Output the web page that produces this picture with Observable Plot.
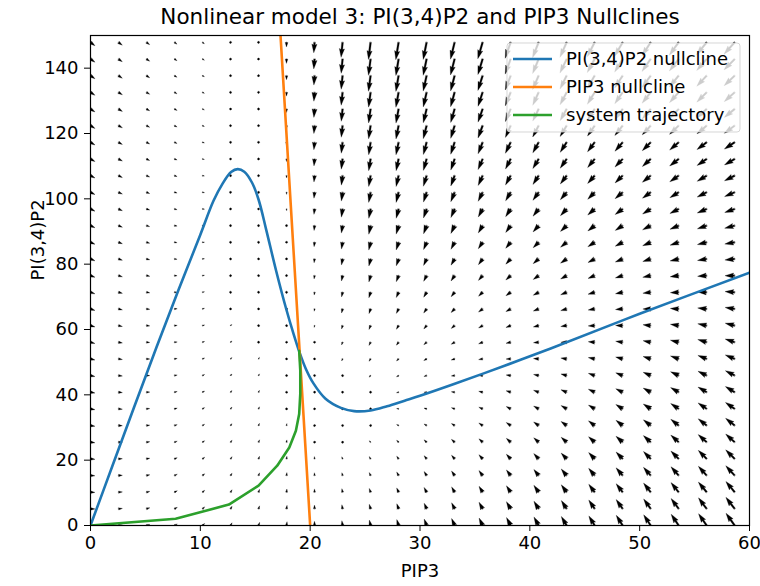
<!DOCTYPE html>
<html>
<head>
<meta charset="utf-8">
<script src="https://cdn.jsdelivr.net/npm/d3@7"></script>
<script src="https://cdn.jsdelivr.net/npm/@observablehq/plot@0.6"></script>
<style>
  body { margin: 0; background: #fff; }
  #chart { position: relative; width: 760px; height: 586px; }
</style>
</head>
<body>
<div id="chart"></div>
<script>
// ---------- data ----------
const TITLE = "Nonlinear model 3: PI(3,4)P2 and PIP3 Nullclines";
const X_LABEL = "PIP3";
const Y_LABEL = "PI(3,4)P2";
const X_TICKS = [0, 10, 20, 30, 40, 50, 60];
const Y_TICKS = [0, 20, 40, 60, 80, 100, 120, 140];
const SERIES = ["PI(3,4)P2 nullcline", "PIP3 nullcline", "system trajectory"];
const COLORS = ["#1f77b4", "#ff7f0e", "#2ca02c"];

// quiver grid
const GRID_PIP3 = [0,2.55,5.1,7.65,10.2,12.75,15.3,17.85,20.4,22.95,25.5,28.05,30.6,33.15,35.7,38.25,40.8,43.35,45.9,48.45,51,53.55,56.1,58.65];
const GRID_PIP2 = [0,5.1,10.2,15.3,20.4,25.5,30.6,35.7,40.8,45.9,51,56.1,61.2,66.3,71.4,76.5,81.6,86.7,91.8,96.9,102,107.1,112.2,117.3,122.4,127.5,132.6,137.7,142.8,147.9];

// arrow components (one array per PIP3 grid column, bottom row first)
const DPIP3 = [
[4.5,4.5,4.5,4.5,4.5,4.5,4.5,4.5,4.5,4.5,4.5,4.5,4.5,4.5,4.5,4.5,4.5,4.5,4.5,4.5,4.5,4.5,4.5,4.5,4.5,4.5,4.5,4.5,4.5,4.5],
[3.9,3.9,3.9,3.9,3.9,3.9,3.9,3.9,3.9,3.9,3.9,3.9,3.9,3.9,3.9,3.9,3.9,3.9,3.9,3.9,3.9,3.9,3.9,3.9,3.9,3.9,3.9,3.8,3.8,3.8],
[3.4,3.3,3.3,3.3,3.3,3.3,3.3,3.3,3.3,3.3,3.3,3.3,3.3,3.3,3.3,3.3,3.3,3.2,3.2,3.2,3.2,3.2,3.2,3.2,3.2,3.2,3.2,3.2,3.2,3.2],
[2.8,2.8,2.8,2.8,2.7,2.7,2.7,2.7,2.7,2.7,2.7,2.7,2.7,2.7,2.7,2.6,2.6,2.6,2.6,2.6,2.6,2.6,2.6,2.6,2.6,2.6,2.5,2.5,2.5,2.5],
[2.2,2.2,2.2,2.2,2.2,2.1,2.1,2.1,2.1,2.1,2.1,2.1,2.1,2,2,2,2,2,2,2,2,1.9,1.9,1.9,1.9,1.9,1.9,1.9,1.9,1.9],
[1.6,1.6,1.6,1.6,1.6,1.6,1.5,1.5,1.5,1.5,1.5,1.5,1.4,1.4,1.4,1.4,1.4,1.4,1.4,1.3,1.3,1.3,1.3,1.3,1.3,1.3,1.2,1.2,1.2,1.2],
[1.1,1,1,1,1,1,0.9,0.9,0.9,0.9,0.9,0.9,0.8,0.8,0.8,0.8,0.8,0.7,0.7,0.7,0.7,0.7,0.7,0.6,0.6,0.6,0.6,0.6,0.5,0.5],
[0.5,0.5,0.4,0.4,0.4,0.4,0.4,0.3,0.3,0.3,0.3,0.2,0.2,0.2,0.2,0.2,0.1,0.1,0.1,0.1,0.1,0,0,0,0,0,-0.1,-0.1,-0.1,-0.1],
[-0.1,-0.1,-0.1,-0.2,-0.2,-0.2,-0.2,-0.3,-0.3,-0.3,-0.3,-0.4,-0.4,-0.4,-0.4,-0.5,-0.5,-0.5,-0.5,-0.6,-0.6,-0.6,-0.6,-0.7,-0.7,-0.7,-0.7,-0.7,-0.8,-0.8],
[-0.7,-0.7,-0.7,-0.7,-0.8,-0.8,-0.8,-0.9,-0.9,-0.9,-0.9,-1,-1,-1,-1,-1.1,-1.1,-1.1,-1.2,-1.2,-1.2,-1.2,-1.3,-1.3,-1.3,-1.3,-1.4,-1.4,-1.4,-1.5],
[-1.2,-1.3,-1.3,-1.3,-1.4,-1.4,-1.4,-1.5,-1.5,-1.5,-1.6,-1.6,-1.6,-1.6,-1.7,-1.7,-1.7,-1.8,-1.8,-1.8,-1.9,-1.9,-1.9,-1.9,-2,-2,-2,-2.1,-2.1,-2.1],
[-1.8,-1.8,-1.9,-1.9,-1.9,-2,-2,-2,-2.1,-2.1,-2.1,-2.2,-2.2,-2.2,-2.3,-2.3,-2.3,-2.4,-2.4,-2.4,-2.5,-2.5,-2.5,-2.6,-2.6,-2.6,-2.7,-2.7,-2.7,-2.8],
[-2.4,-2.4,-2.5,-2.5,-2.5,-2.6,-2.6,-2.6,-2.7,-2.7,-2.8,-2.8,-2.8,-2.9,-2.9,-2.9,-3,-3,-3,-3.1,-3.1,-3.2,-3.2,-3.2,-3.3,-3.3,-3.3,-3.4,-3.4,-3.4],
[-3,-3,-3,-3.1,-3.1,-3.2,-3.2,-3.2,-3.3,-3.3,-3.4,-3.4,-3.4,-3.5,-3.5,-3.6,-3.6,-3.6,-3.7,-3.7,-3.8,-3.8,-3.8,-3.9,-3.9,-3.9,-4,-4,-4.1,-4.1],
[-3.5,-3.6,-3.6,-3.7,-3.7,-3.7,-3.8,-3.8,-3.9,-3.9,-4,-4,-4,-4.1,-4.1,-4.2,-4.2,-4.3,-4.3,-4.3,-4.4,-4.4,-4.5,-4.5,-4.6,-4.6,-4.6,-4.7,-4.7,-4.8],
[-4.1,-4.2,-4.2,-4.2,-4.3,-4.3,-4.4,-4.4,-4.5,-4.5,-4.6,-4.6,-4.7,-4.7,-4.7,-4.8,-4.8,-4.9,-4.9,-5,-5,-5.1,-5.1,-5.2,-5.2,-5.2,-5.3,-5.3,-5.4,-5.4],
[-4.7,-4.7,-4.8,-4.8,-4.9,-4.9,-5,-5,-5.1,-5.1,-5.2,-5.2,-5.3,-5.3,-5.4,-5.4,-5.5,-5.5,-5.6,-5.6,-5.7,-5.7,-5.8,-5.8,-5.9,-5.9,-5.9,-6,-6,-6.1],
[-5.3,-5.3,-5.4,-5.4,-5.5,-5.5,-5.6,-5.6,-5.7,-5.7,-5.8,-5.8,-5.9,-5.9,-6,-6,-6.1,-6.1,-6.2,-6.2,-6.3,-6.3,-6.4,-6.4,-6.5,-6.5,-6.6,-6.6,-6.7,-6.7],
[-5.8,-5.9,-5.9,-6,-6,-6.1,-6.2,-6.2,-6.3,-6.3,-6.4,-6.4,-6.5,-6.5,-6.6,-6.6,-6.7,-6.8,-6.8,-6.9,-6.9,-7,-7,-7.1,-7.1,-7.2,-7.3,-7.3,-7.4,-7.4],
[-6.4,-6.5,-6.5,-6.6,-6.6,-6.7,-6.7,-6.8,-6.9,-6.9,-7,-7,-7.1,-7.2,-7.2,-7.3,-7.3,-7.4,-7.4,-7.5,-7.6,-7.6,-7.7,-7.7,-7.8,-7.8,-7.9,-8,-8,-8.1],
[-7,-7,-7.1,-7.2,-7.2,-7.3,-7.3,-7.4,-7.5,-7.5,-7.6,-7.6,-7.7,-7.8,-7.8,-7.9,-7.9,-8,-8.1,-8.1,-8.2,-8.3,-8.3,-8.4,-8.4,-8.5,-8.6,-8.6,-8.7,-8.7],
[-7.5,-7.6,-7.7,-7.7,-7.8,-7.9,-7.9,-8,-8.1,-8.1,-8.2,-8.3,-8.3,-8.4,-8.4,-8.5,-8.6,-8.6,-8.7,-8.8,-8.8,-8.9,-9,-9,-9.1,-9.1,-9.2,-9.3,-9.3,-9.4],
[-8.1,-8.2,-8.3,-8.3,-8.4,-8.5,-8.5,-8.6,-8.7,-8.7,-8.8,-8.9,-8.9,-9,-9.1,-9.1,-9.2,-9.3,-9.3,-9.4,-9.5,-9.5,-9.6,-9.7,-9.7,-9.8,-9.9,-9.9,-10,-10.1],
[-8.7,-8.8,-8.8,-8.9,-9,-9,-9.1,-9.2,-9.3,-9.3,-9.4,-9.5,-9.5,-9.6,-9.7,-9.7,-9.8,-9.9,-10,-10,-10.1,-10.2,-10.2,-10.3,-10.4,-10.4,-10.5,-10.6,-10.7,-10.7]
];
const DPIP2 = [
[0,-0.1,-0.2,-0.3,-0.5,-0.6,-0.7,-0.8,-0.9,-1,-1.2,-1.3,-1.4,-1.5,-1.6,-1.7,-1.9,-2,-2.1,-2.2,-2.3,-2.4,-2.6,-2.7,-2.8,-2.9,-3,-3.1,-3.2,-3.4],
[0.5,0.4,0.3,0.2,0.1,0,-0.2,-0.3,-0.4,-0.5,-0.6,-0.7,-0.9,-1,-1.1,-1.2,-1.3,-1.4,-1.6,-1.7,-1.8,-1.9,-2,-2.1,-2.2,-2.4,-2.5,-2.6,-2.7,-2.8],
[1.1,1,0.8,0.7,0.6,0.5,0.4,0.3,0.1,0,-0.1,-0.2,-0.3,-0.4,-0.6,-0.7,-0.8,-0.9,-1,-1.1,-1.3,-1.4,-1.5,-1.6,-1.7,-1.8,-2,-2.1,-2.2,-2.3],
[1.6,1.5,1.4,1.3,1.1,1,0.9,0.8,0.7,0.5,0.4,0.3,0.2,0.1,-0.1,-0.2,-0.3,-0.4,-0.5,-0.7,-0.8,-0.9,-1,-1.1,-1.3,-1.4,-1.5,-1.6,-1.7,-1.8],
[2.1,2,1.9,1.8,1.7,1.5,1.4,1.3,1.2,1.1,0.9,0.8,0.7,0.6,0.5,0.3,0.2,0.1,0,-0.2,-0.3,-0.4,-0.5,-0.6,-0.8,-0.9,-1,-1.1,-1.3,-1.4],
[2.7,2.6,2.4,2.3,2.2,2,1.9,1.8,1.7,1.5,1.4,1.3,1.1,1,0.9,0.8,0.6,0.5,0.4,0.3,0.1,0,-0.1,-0.3,-0.4,-0.5,-0.7,-0.8,-0.9,-1],
[3.2,3,2.9,2.7,2.6,2.4,2.2,2.1,1.9,1.7,1.6,1.4,1.2,1.1,0.9,0.7,0.6,0.4,0.2,0.1,-0.1,-0.3,-0.4,-0.6,-0.8,-0.9,-1.1,-1.2,-1.4,-1.6],
[3.8,3.5,3.2,2.9,2.6,2.3,2,1.7,1.4,1.1,0.9,0.6,0.3,0,-0.3,-0.6,-0.9,-1.2,-1.5,-1.8,-2.1,-2.3,-2.6,-2.9,-3.2,-3.5,-3.8,-4.1,-4.4,-4.7],
[4.3,3.8,3.3,2.8,2.3,1.7,1.2,0.7,0.2,-0.3,-0.8,-1.3,-1.8,-2.3,-2.8,-3.3,-3.9,-4.4,-4.9,-5.4,-5.9,-6.4,-6.9,-7.4,-7.9,-8.4,-8.9,-9.4,-9.9,-10.5],
[4.8,4.1,3.5,2.8,2.1,1.4,0.7,0,-0.6,-1.3,-2,-2.7,-3.4,-4.1,-4.7,-5.4,-6.1,-6.8,-7.5,-8.2,-8.8,-9.5,-10.2,-10.9,-11.6,-12.3,-12.9,-13.6,-14.3,-15],
[5.4,4.6,3.8,3,2.3,1.5,0.7,-0.1,-0.8,-1.6,-2.4,-3.2,-3.9,-4.7,-5.5,-6.3,-7,-7.8,-8.6,-9.4,-10.1,-10.9,-11.7,-12.5,-13.2,-14,-14.8,-15.6,-16.3,-17.1],
[5.9,5.1,4.3,3.5,2.7,1.9,1.1,0.3,-0.5,-1.3,-2.1,-2.9,-3.7,-4.5,-5.3,-6.1,-6.9,-7.7,-8.5,-9.3,-10.1,-10.9,-11.7,-12.5,-13.3,-14.1,-14.9,-15.7,-16.5,-17.3],
[6.4,5.6,4.8,4,3.2,2.4,1.6,0.8,0,-0.9,-1.7,-2.5,-3.3,-4.1,-4.9,-5.7,-6.5,-7.3,-8.2,-9,-9.8,-10.6,-11.4,-12.2,-13,-13.8,-14.6,-15.4,-16.3,-17.1],
[7,6.1,5.3,4.5,3.7,2.9,2,1.2,0.4,-0.4,-1.2,-2.1,-2.9,-3.7,-4.5,-5.3,-6.2,-7,-7.8,-8.6,-9.4,-10.3,-11.1,-11.9,-12.7,-13.5,-14.4,-15.2,-16,-16.8],
[7.5,6.7,5.9,5,4.2,3.4,2.6,1.7,0.9,0.1,-0.7,-1.6,-2.4,-3.2,-4,-4.8,-5.7,-6.5,-7.3,-8.1,-9,-9.8,-10.6,-11.4,-12.3,-13.1,-13.9,-14.7,-15.5,-16.4],
[8,7.2,6.4,5.6,4.7,3.9,3.1,2.3,1.4,0.6,-0.2,-1.1,-1.9,-2.7,-3.5,-4.4,-5.2,-6,-6.8,-7.7,-8.5,-9.3,-10.1,-11,-11.8,-12.6,-13.5,-14.3,-15.1,-15.9],
[8.6,7.7,6.9,6.1,5.3,4.4,3.6,2.8,1.9,1.1,0.3,-0.5,-1.4,-2.2,-3,-3.9,-4.7,-5.5,-6.3,-7.2,-8,-8.8,-9.6,-10.5,-11.3,-12.1,-13,-13.8,-14.6,-15.4],
[9.1,8.3,7.4,6.6,5.8,5,4.1,3.3,2.5,1.6,0.8,0,-0.9,-1.7,-2.5,-3.4,-4.2,-5,-5.8,-6.7,-7.5,-8.3,-9.2,-10,-10.8,-11.7,-12.5,-13.3,-14.1,-15],
[9.6,8.8,8,7.2,6.3,5.5,4.7,3.8,3,2.2,1.3,0.5,-0.3,-1.2,-2,-2.8,-3.6,-4.5,-5.3,-6.1,-7,-7.8,-8.6,-9.5,-10.3,-11.1,-11.9,-12.8,-13.6,-14.4],
[10.2,9.3,8.5,7.7,6.9,6,5.2,4.4,3.5,2.7,1.9,1,0.2,-0.6,-1.5,-2.3,-3.1,-3.9,-4.8,-5.6,-6.4,-7.3,-8.1,-8.9,-9.8,-10.6,-11.4,-12.2,-13.1,-13.9],
[10.7,9.9,9.1,8.2,7.4,6.6,5.7,4.9,4.1,3.2,2.4,1.6,0.8,-0.1,-0.9,-1.7,-2.6,-3.4,-4.2,-5.1,-5.9,-6.7,-7.6,-8.4,-9.2,-10,-10.9,-11.7,-12.5,-13.4],
[11.3,10.4,9.6,8.8,7.9,7.1,6.3,5.4,4.6,3.8,3,2.1,1.3,0.5,-0.4,-1.2,-2,-2.9,-3.7,-4.5,-5.4,-6.2,-7,-7.8,-8.7,-9.5,-10.3,-11.2,-12,-12.8],
[11.8,11,10.1,9.3,8.5,7.6,6.8,6,5.1,4.3,3.5,2.7,1.8,1,0.2,-0.7,-1.5,-2.3,-3.2,-4,-4.8,-5.7,-6.5,-7.3,-8.1,-9,-9.8,-10.6,-11.5,-12.3],
[12.3,11.5,10.7,9.8,9,8.2,7.3,6.5,5.7,4.9,4,3.2,2.4,1.5,0.7,-0.1,-1,-1.8,-2.6,-3.5,-4.3,-5.1,-5.9,-6.8,-7.6,-8.4,-9.3,-10.1,-10.9,-11.8]
];

// PI(3,4)P2 nullcline
const P2_NULL_X = [0,2,4,6,8,10,11.2,12,12.8,13.4,14,14.7,15.3,16,16.9,17.8,18.5,19,19.6,20.3,21.4,22.8,24,25.5,27,28.6,30,33.1,37.7,41.9,50,60];
const P2_NULL_Y = [0,18.3,36.5,54.5,72,89,99.4,104.5,108.2,109.1,108.3,105,99.8,90.5,78,66.5,58.5,53.3,48,43.5,38.8,36,35,35.2,36.5,38.2,39.7,43.3,48.9,54.2,64.8,77.4];
// PIP3 nullcline
const P3_NULL_X = [20,19.55,19.1,18.65,18.2,17.75,17.3];
const P3_NULL_Y = [0,25,50,75,100,125,150];
// system trajectory
const TRAJ_X = [0,7.75,12.6,15.3,17.0,18.1,18.7,19.0,19.1,19.1,19.0];
const TRAJ_Y = [0,2.05,6.4,12.2,18.3,23.9,29.0,34.1,40.3,47.4,53.5];

// ---------- build tables ----------
const field = [];
GRID_PIP3.forEach((x, i) => GRID_PIP2.forEach((y, j) => {
  const u = DPIP3[i][j], v = DPIP2[i][j];
  field.push({x, y, len: Math.hypot(u, v), rot: Math.atan2(u, v) * 180 / Math.PI});
}));
const zip = (xs, ys) => xs.map((x, i) => ({x, y: ys[i]}));
const curves = [zip(P2_NULL_X, P2_NULL_Y), zip(P3_NULL_X, P3_NULL_Y), zip(TRAJ_X, TRAJ_Y)];
const CURVES = ["catmull-rom", "linear", "linear"];

// matplotlib-like filled quiver arrow
const quiverArrow = {
  draw(ctx, l) {
    const w = 1.75, hl = 5 * w, hal = 4.5 * w, hw = 3 * w;
    if (l < w) { const r = w / 2 + 0.2; ctx.moveTo(r, 0); ctx.arc(0, 0, r, 0, 2 * Math.PI); return; }
    const s = l < hl ? l / hl : 1;
    const L = l / s;
    const pts = [[-w/2, 0], [-w/2, -(L - hal)], [-hw/2, -(L - hl)], [0, -L], [hw/2, -(L - hl)], [w/2, -(L - hal)], [w/2, 0]];
    pts.forEach(([px, py], k) => k ? ctx.lineTo(px * s, py * s) : ctx.moveTo(px * s, py * s));
    ctx.closePath();
  }
};

const FONT = "DejaVu Sans";
const plot = Plot.plot({
  width: 760, height: 586,
  marginLeft: 90, marginRight: 11, marginTop: 35, marginBottom: 61,
  style: {fontFamily: FONT, fontSize: "18px", color: "black", background: "white"},
  x: {domain: [0, 60], ticks: X_TICKS, tickSize: 6, tickPadding: 5, label: null},
  y: {domain: [0, 150], ticks: Y_TICKS, tickSize: 6, tickPadding: 6, label: null},
  length: {domain: [0, 100], range: [0, 100]},
  marks: [
    Plot.vector(field, {x: "x", y: "y", length: "len", rotate: "rot", anchor: "start",
      shape: quiverArrow, fill: "black", stroke: "black", strokeWidth: 0.25, clip: true}),
    ...curves.map((c, i) => Plot.line(c, {x: "x", y: "y", stroke: COLORS[i], strokeWidth: 2.6,
      curve: CURVES[i], strokeLinejoin: "round", clip: true})),
    Plot.frame({stroke: "black", strokeWidth: 1.2}),
    Plot.text([TITLE], {frameAnchor: "top", dy: -18, lineAnchor: "middle", fontSize: 21.5, fill: "black"}),
    Plot.text([X_LABEL], {frameAnchor: "bottom", dy: 46, lineAnchor: "middle", fontSize: 18, fill: "black"}),
    Plot.text([Y_LABEL], {frameAnchor: "left", dx: -52, rotate: -90, lineAnchor: "middle", fontSize: 18, fill: "black"})
  ]
});
document.getElementById("chart").append(plot);

// ---------- legend (upper right) ----------
const svg = d3.select(plot.tagName === "svg" ? plot : plot.querySelector("svg"));
const lg = svg.append("g").attr("font-family", FONT).attr("font-size", 18).attr("text-anchor", "start");
lg.append("rect").attr("x", 507).attr("y", 43).attr("width", 233).attr("height", 89).attr("rx", 3)
  .attr("fill", "white").attr("fill-opacity", 0.8).attr("stroke", "#cccccc").attr("stroke-opacity", 0.8);
SERIES.forEach((s, i) => {
  const y = 59 + i * 28;
  lg.append("line").attr("x1", 513).attr("x2", 552).attr("y1", y).attr("y2", y)
    .attr("stroke", COLORS[i]).attr("stroke-width", 2.6);
  lg.append("text").attr("x", 566).attr("y", y).attr("dy", "0.35em").attr("text-anchor", "start")
    .attr("fill", "black").text(s);
});
</script>
</body>
</html>
